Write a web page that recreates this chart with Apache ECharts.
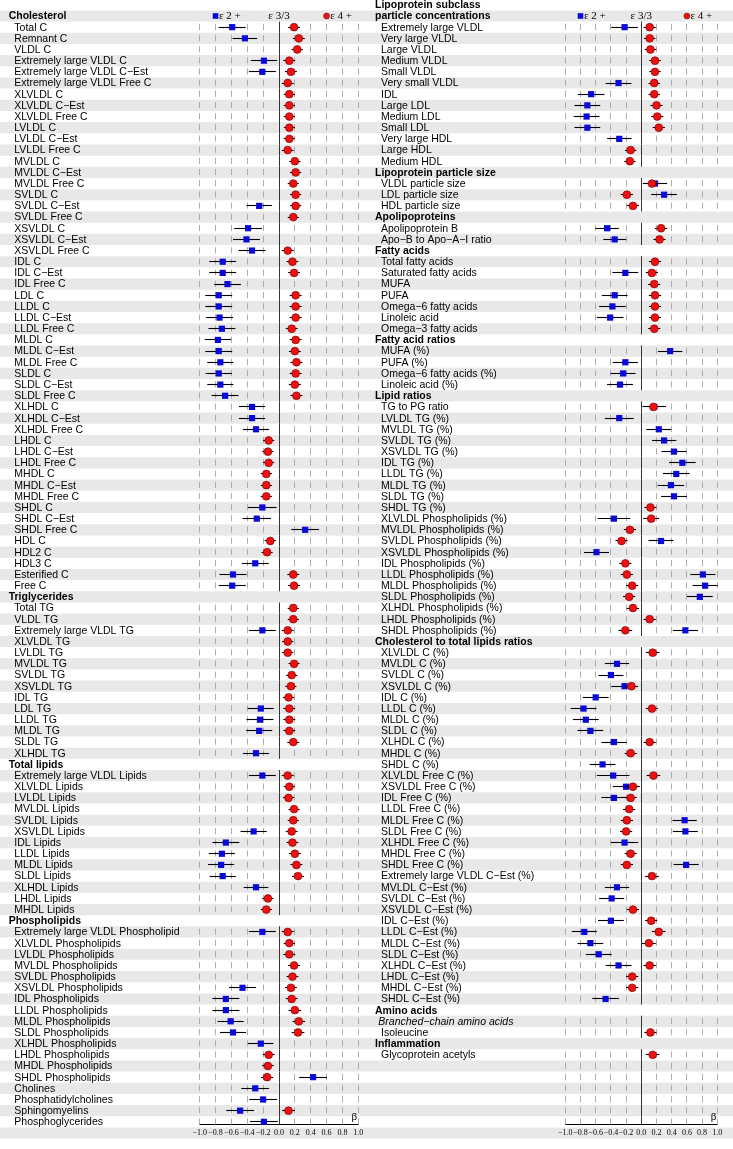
<!DOCTYPE html>
<html><head><meta charset="utf-8">
<script src="https://cdn.jsdelivr.net/npm/echarts@6/dist/echarts.min.js"></script>
<style>html,body{margin:0;padding:0;background:#fff}#c{width:733px;height:1149px}</style>
</head><body><div id="c"></div>
<script>
// ---------------- DATA ----------------
const tickValues = [-1.0,-0.8,-0.6,-0.4,-0.2,0.0,0.2,0.4,0.6,0.8,1.0];
const tickLabels = ['−1.0','−0.8','−0.6','−0.4','−0.2','0.0','0.2','0.4','0.6','0.8','1.0'];
const legendNames = ['ε 2 +','ε 3/3','ε 4 +'];

const leftLabels = [
'Cholesterol','Total C','Remnant C','VLDL C','Extremely large VLDL C','Extremely large VLDL C−Est','Extremely large VLDL Free C','XLVLDL C','XLVLDL C−Est','XLVLDL Free C',
'LVLDL C','LVLDL C−Est','LVLDL Free C','MVLDL C','MVLDL C−Est','MVLDL Free C','SVLDL C','SVLDL C−Est','SVLDL Free C','XSVLDL C',
'XSVLDL C−Est','XSVLDL Free C','IDL C','IDL C−Est','IDL Free C','LDL C','LLDL C','LLDL C−Est','LLDL Free C','MLDL C',
'MLDL C−Est','MLDL Free C','SLDL C','SLDL C−Est','SLDL Free C','XLHDL C','XLHDL C−Est','XLHDL Free C','LHDL C','LHDL C−Est',
'LHDL Free C','MHDL C','MHDL C−Est','MHDL Free C','SHDL C','SHDL C−Est','SHDL Free C','HDL C','HDL2 C','HDL3 C',
'Esterified C','Free C','Triglycerides','Total TG','VLDL TG','Extremely large VLDL TG','XLVLDL TG','LVLDL TG','MVLDL TG','SVLDL TG',
'XSVLDL TG','IDL TG','LDL TG','LLDL TG','MLDL TG','SLDL TG','XLHDL TG','Total lipids','Extremely large VLDL Lipids','XLVLDL Lipids',
'LVLDL Lipids','MVLDL Lipids','SVLDL Lipids','XSVLDL Lipids','IDL Lipids','LLDL Lipids','MLDL Lipids','SLDL Lipids','XLHDL Lipids','LHDL Lipids',
'MHDL Lipids','Phospholipids','Extremely large VLDL Phospholipids','XLVLDL Phospholipids','LVLDL Phospholipids','MVLDL Phospholipids','SVLDL Phospholipids','XSVLDL Phospholipids','IDL Phospholipids','LLDL Phospholipids',
'MLDL Phospholipids','SLDL Phospholipids','XLHDL Phospholipids','LHDL Phospholipids','MHDL Phospholipids','SHDL Phospholipids','Cholines','Phosphatidylcholines','Sphingomyelins','Phosphoglycerides'
];
const leftHeaders = ['Cholesterol','Triglycerides','Total lipids','Phospholipids'];

// [label, beta, half-width of CI]
const leftBlue = [
['Total C',-0.59,0.17],['Remnant C',-0.43,0.155],['Extremely large VLDL C',-0.19,0.165],['Extremely large VLDL C−Est',-0.21,0.17],
['SVLDL C−Est',-0.25,0.16],['XSVLDL C',-0.39,0.175],['XSVLDL C−Est',-0.41,0.17],['XSVLDL Free C',-0.34,0.17],
['IDL C',-0.71,0.17],['IDL C−Est',-0.71,0.17],['IDL Free C',-0.65,0.17],['LDL C',-0.76,0.17],['LLDL C',-0.76,0.17],
['LLDL C−Est',-0.75,0.17],['LLDL Free C',-0.72,0.17],['MLDL C',-0.77,0.165],['MLDL C−Est',-0.76,0.17],['MLDL Free C',-0.74,0.165],
['SLDL C',-0.76,0.165],['SLDL C−Est',-0.74,0.165],['SLDL Free C',-0.68,0.17],['XLHDL C',-0.34,0.165],['XLHDL C−Est',-0.34,0.165],
['XLHDL Free C',-0.29,0.165],['SHDL C',-0.21,0.18],['SHDL C−Est',-0.28,0.18],['SHDL Free C',0.33,0.175],['HDL3 C',-0.30,0.17],
['Esterified C',-0.58,0.17],['Free C',-0.59,0.17],['Extremely large VLDL TG',-0.21,0.17],['LDL TG',-0.23,0.165],['LLDL TG',-0.24,0.17],
['MLDL TG',-0.25,0.165],['XLHDL TG',-0.29,0.165],['Extremely large VLDL Lipids',-0.21,0.17],['XSVLDL Lipids',-0.32,0.165],
['IDL Lipids',-0.67,0.17],['LLDL Lipids',-0.72,0.165],['MLDL Lipids',-0.73,0.165],['SLDL Lipids',-0.71,0.165],['XLHDL Lipids',-0.29,0.155],
['Extremely large VLDL Phospholipids',-0.21,0.17],['XSVLDL Phospholipids',-0.46,0.17],['IDL Phospholipids',-0.67,0.17],
['LLDL Phospholipids',-0.67,0.17],['MLDL Phospholipids',-0.61,0.165],['SLDL Phospholipids',-0.58,0.165],['XLHDL Phospholipids',-0.23,0.16],
['SHDL Phospholipids',0.43,0.175],['Cholines',-0.30,0.175],['Phosphatidylcholines',-0.20,0.175],['Sphingomyelins',-0.49,0.175],
['Phosphoglycerides',-0.19,0.175]
];
const leftRed = [
['Total C',0.19,0.075],['Remnant C',0.25,0.075],['VLDL C',0.23,0.07],['Extremely large VLDL C',0.13,0.075],['Extremely large VLDL C−Est',0.15,0.075],
['Extremely large VLDL Free C',0.11,0.075],['XLVLDL C',0.13,0.07],['XLVLDL C−Est',0.13,0.07],['XLVLDL Free C',0.13,0.07],['LVLDL C',0.13,0.07],
['LVLDL C−Est',0.13,0.07],['LVLDL Free C',0.11,0.075],['MVLDL C',0.20,0.07],['MVLDL C−Est',0.21,0.07],['MVLDL Free C',0.18,0.07],
['SVLDL C',0.21,0.07],['SVLDL C−Est',0.21,0.07],['SVLDL Free C',0.18,0.07],['XSVLDL Free C',0.11,0.075],['IDL C',0.17,0.075],
['IDL C−Est',0.19,0.075],['LDL C',0.21,0.075],['LLDL C',0.21,0.075],['LLDL C−Est',0.21,0.075],['LLDL Free C',0.16,0.075],
['MLDL C',0.21,0.075],['MLDL C−Est',0.20,0.075],['MLDL Free C',0.22,0.075],['SLDL C',0.21,0.075],['SLDL C−Est',0.20,0.075],
['SLDL Free C',0.22,0.075],['LHDL C',-0.13,0.07],['LHDL C−Est',-0.14,0.07],['LHDL Free C',-0.13,0.07],['MHDL C',-0.16,0.07],
['MHDL C−Est',-0.16,0.07],['MHDL Free C',-0.16,0.07],['HDL C',-0.11,0.07],['HDL2 C',-0.15,0.07],['Esterified C',0.18,0.075],
['Free C',0.19,0.075],['Total TG',0.18,0.07],['VLDL TG',0.18,0.07],['Extremely large VLDL TG',0.11,0.075],['XLVLDL TG',0.11,0.07],
['LVLDL TG',0.11,0.07],['MVLDL TG',0.19,0.07],['SVLDL TG',0.16,0.07],['XSVLDL TG',0.15,0.07],['IDL TG',0.12,0.07],
['LDL TG',0.13,0.075],['LLDL TG',0.13,0.075],['MLDL TG',0.13,0.075],['SLDL TG',0.18,0.075],['Extremely large VLDL Lipids',0.11,0.075],
['XLVLDL Lipids',0.13,0.07],['LVLDL Lipids',0.12,0.07],['MVLDL Lipids',0.19,0.07],['SVLDL Lipids',0.18,0.07],['XSVLDL Lipids',0.16,0.075],
['IDL Lipids',0.17,0.075],['LLDL Lipids',0.20,0.075],['MLDL Lipids',0.22,0.075],['SLDL Lipids',0.24,0.075],['LHDL Lipids',-0.14,0.07],
['MHDL Lipids',-0.16,0.07],['Extremely large VLDL Phospholipids',0.11,0.075],['XLVLDL Phospholipids',0.13,0.07],['LVLDL Phospholipids',0.13,0.075],
['MVLDL Phospholipids',0.19,0.075],['SVLDL Phospholipids',0.17,0.075],['XSVLDL Phospholipids',0.15,0.075],['IDL Phospholipids',0.16,0.075],
['LLDL Phospholipids',0.20,0.08],['MLDL Phospholipids',0.25,0.08],['SLDL Phospholipids',0.24,0.08],['LHDL Phospholipids',-0.13,0.075],
['MHDL Phospholipids',-0.14,0.075],['SHDL Phospholipids',-0.15,0.075],['Sphingomyelins',0.12,0.08]
];

// right panel starts one row higher (two-line heading)
const rightLabels = [
'Lipoprotein subclass','particle concentrations','Extremely large VLDL','Very large VLDL','Large VLDL','Medium VLDL','Small VLDL','Very small VLDL','IDL','Large LDL',
'Medium LDL','Small LDL','Very large HDL','Large HDL','Medium HDL','Lipoprotein particle size','VLDL particle size','LDL particle size','HDL particle size','Apolipoproteins',
'Apolipoprotein B','Apo−B to Apo−A−I ratio','Fatty acids','Total fatty acids','Saturated fatty acids','MUFA','PUFA','Omega−6 fatty acids','Linoleic acid','Omega−3 fatty acids',
'Fatty acid ratios','MUFA (%)','PUFA (%)','Omega−6 fatty acids (%)','Linoleic acid (%)','Lipid ratios','TG to PG ratio','LVLDL TG (%)','MVLDL TG (%)','SVLDL TG (%)',
'XSVLDL TG (%)','IDL TG (%)','LLDL TG (%)','MLDL TG (%)','SLDL TG (%)','SHDL TG (%)','XLVLDL Phospholipids (%)','MVLDL Phospholipids (%)','SVLDL Phospholipids (%)','XSVLDL Phospholipids (%)',
'IDL Phospholipids (%)','LLDL Phospholipids (%)','MLDL Phospholipids (%)','SLDL Phospholipids (%)','XLHDL Phospholipids (%)','LHDL Phospholipids (%)','SHDL Phospholipids (%)','Cholesterol to total lipids ratios','XLVLDL C (%)','MVLDL C (%)',
'SVLDL C (%)','XSVLDL C (%)','IDL C (%)','LLDL C (%)','MLDL C (%)','SLDL C (%)','XLHDL C (%)','MHDL C (%)','SHDL C (%)','XLVLDL Free C (%)',
'XSVLDL Free C (%)','IDL Free C (%)','LLDL Free C (%)','MLDL Free C (%)','SLDL Free C (%)','XLHDL Free C (%)','MHDL Free C (%)','SHDL Free C (%)','Extremely large VLDL C−Est (%)','MVLDL C−Est (%)',
'SVLDL C−Est (%)','XSVLDL C−Est (%)','IDL C−Est (%)','LLDL C−Est (%)','MLDL C−Est (%)','SLDL C−Est (%)','XLHDL C−Est (%)','LHDL C−Est (%)','MHDL C−Est (%)','SHDL C−Est (%)',
'Amino acids','Branched−chain amino acids','Isoleucine','Inflammation','Glycoprotein acetyls','','','','','',''
];
const rightHeaders = ['Lipoprotein subclass','particle concentrations','Lipoprotein particle size','Apolipoproteins','Fatty acids','Fatty acid ratios','Lipid ratios','Cholesterol to total lipids ratios','Amino acids','Inflammation'];
const rightSubheaders = ['Branched−chain amino acids'];

const rightBlue = [
['Extremely large VLDL',-0.22,0.175],['Very small VLDL',-0.30,0.17],['IDL',-0.66,0.175],['Large LDL',-0.71,0.17],['Medium LDL',-0.72,0.17],
['Small LDL',-0.71,0.17],['Very large HDL',-0.29,0.16],['VLDL particle size',0.18,0.16],['LDL particle size',0.30,0.17],
['Apolipoprotein B',-0.45,0.155],['Apo−B to Apo−A−I ratio',-0.35,0.15],['Saturated fatty acids',-0.21,0.17],['PUFA',-0.35,0.17],
['Omega−6 fatty acids',-0.38,0.175],['Linoleic acid',-0.41,0.175],['MUFA (%)',0.38,0.16],['PUFA (%)',-0.21,0.165],
['Omega−6 fatty acids (%)',-0.24,0.165],['Linoleic acid (%)',-0.28,0.17],['TG to PG ratio',0.17,0.155],['LVLDL TG (%)',-0.29,0.19],
['MVLDL TG (%)',0.23,0.165],['SVLDL TG (%)',0.30,0.16],['XSVLDL TG (%)',0.43,0.165],['IDL TG (%)',0.54,0.175],['LLDL TG (%)',0.46,0.175],
['MLDL TG (%)',0.39,0.175],['SLDL TG (%)',0.43,0.17],['XLVLDL Phospholipids (%)',-0.36,0.215],['SVLDL Phospholipids (%)',0.26,0.165],
['XSVLDL Phospholipids (%)',-0.59,0.165],['LLDL Phospholipids (%)',0.81,0.165],['MLDL Phospholipids (%)',0.84,0.165],
['SLDL Phospholipids (%)',0.77,0.17],['SHDL Phospholipids (%)',0.58,0.165],['MVLDL C (%)',-0.32,0.16],['SVLDL C (%)',-0.40,0.165],
['XSVLDL C (%)',-0.22,0.175],['IDL C (%)',-0.60,0.17],['LLDL C (%)',-0.76,0.17],['MLDL C (%)',-0.73,0.17],['SLDL C (%)',-0.67,0.17],
['XLHDL C (%)',-0.36,0.165],['SHDL C (%)',-0.51,0.17],['XLVLDL Free C (%)',-0.37,0.215],['XSVLDL Free C (%)',-0.20,0.175],
['IDL Free C (%)',-0.36,0.165],['MLDL Free C (%)',0.57,0.16],['SLDL Free C (%)',0.58,0.165],['XLHDL Free C (%)',-0.22,0.18],
['SHDL Free C (%)',0.59,0.165],['MVLDL C−Est (%)',-0.32,0.16],['SVLDL C−Est (%)',-0.39,0.165],['IDL C−Est (%)',-0.40,0.17],
['LLDL C−Est (%)',-0.75,0.165],['MLDL C−Est (%)',-0.67,0.17],['SLDL C−Est (%)',-0.56,0.17],['XLHDL C−Est (%)',-0.30,0.17],
['SHDL C−Est (%)',-0.47,0.175]
];
const rightRed = [
['Extremely large VLDL',0.11,0.08],['Very large VLDL',0.11,0.075],['Large VLDL',0.12,0.075],['Medium VLDL',0.18,0.075],['Small VLDL',0.18,0.075],
['Very small VLDL',0.17,0.075],['IDL',0.17,0.075],['Large LDL',0.20,0.08],['Medium LDL',0.21,0.08],['Small LDL',0.23,0.08],
['Large HDL',-0.14,0.075],['Medium HDL',-0.15,0.075],['VLDL particle size',0.14,0.08],['LDL particle size',-0.19,0.08],
['HDL particle size',-0.11,0.08],['Apolipoprotein B',0.26,0.08],['Apo−B to Apo−A−I ratio',0.24,0.08],['Total fatty acids',0.18,0.08],
['Saturated fatty acids',0.14,0.08],['MUFA',0.17,0.08],['PUFA',0.18,0.08],['Omega−6 fatty acids',0.18,0.08],['Linoleic acid',0.18,0.08],
['Omega−3 fatty acids',0.17,0.08],['TG to PG ratio',0.16,0.08],['SHDL TG (%)',0.12,0.08],['XLVLDL Phospholipids (%)',0.13,0.105],
['MVLDL Phospholipids (%)',-0.15,0.08],['SVLDL Phospholipids (%)',-0.26,0.08],['IDL Phospholipids (%)',-0.21,0.08],
['LLDL Phospholipids (%)',-0.19,0.08],['MLDL Phospholipids (%)',-0.12,0.08],['SLDL Phospholipids (%)',-0.16,0.08],
['XLHDL Phospholipids (%)',-0.11,0.08],['LHDL Phospholipids (%)',0.11,0.08],['SHDL Phospholipids (%)',-0.21,0.09],['XLVLDL C (%)',0.15,0.09],
['XSVLDL C (%)',-0.13,0.08],['LLDL C (%)',0.14,0.08],['XLHDL C (%)',0.11,0.08],['MHDL C (%)',-0.14,0.08],['XLVLDL Free C (%)',0.16,0.09],
['XSVLDL Free C (%)',-0.11,0.09],['IDL Free C (%)',-0.14,0.08],['LLDL Free C (%)',-0.16,0.08],['MLDL Free C (%)',-0.19,0.08],
['SLDL Free C (%)',-0.20,0.08],['MHDL Free C (%)',-0.14,0.08],['SHDL Free C (%)',-0.19,0.08],['Extremely large VLDL C−Est (%)',0.14,0.09],
['XSVLDL C−Est (%)',-0.11,0.08],['IDL C−Est (%)',0.13,0.08],['LLDL C−Est (%)',0.23,0.09],['MLDL C−Est (%)',0.10,0.09],
['XLHDL C−Est (%)',0.11,0.08],['LHDL C−Est (%)',-0.12,0.08],['MHDL C−Est (%)',-0.12,0.08],['Isoleucine',0.12,0.08],
['Glycoprotein acetyls',0.15,0.09]
];

// ---------------- LAYOUT ----------------
const W = 733, H = 1149, ROW0 = 16, ROWH = 11.17, AXIS_Y = 1124.7;
const yMinAll = -ROW0 / ROWH, yMaxAll = (H - ROW0) / ROWH, yMaxPanel = (AXIS_Y - ROW0) / ROWH;
const BLUE = '#0a0ad8', RED = '#ee1111';
const SANS = '"Liberation Sans", Arial, sans-serif';
const SERIF = '"Liberation Serif", "Times New Roman", serif';

const panels = [
  {labels: leftLabels, start: 0, headers: leftHeaders, subs: [], blue: leftBlue, red: leftRed,
   gridLeft: 199.7, gridWidth: 158.6, xHead: 8.7, xSub: 11, xItem: 14.3, clipW: 168.5},
  {labels: rightLabels, start: -1, headers: rightHeaders, subs: rightSubheaders, blue: rightBlue, red: rightRed,
   gridLeft: 565.3, gridWidth: 152, xHead: 375, xSub: 378.3, xItem: 381, clipW: 0}
];

const chart = echarts.init(document.getElementById('c'), null, {renderer: 'canvas'});

const grids = [{left: 0, top: 0, width: W, height: H}];
const xAxes = [{gridIndex: 0, type: 'value', min: 0, max: W, show: false}];
const yAxes = [{gridIndex: 0, type: 'value', min: yMinAll, max: yMaxAll, inverse: true, show: false}];
const series = [];

// stripes
const stripeRows = [];
for (let r = 0; r <= Math.ceil(yMaxAll); r++) if (r % 2 === 0) stripeRows.push([0, r]);
series.push({
  type: 'custom', xAxisIndex: 0, yAxisIndex: 0, z: 0, silent: true, data: stripeRows,
  renderItem: function (params, api) {
    const r = api.value(1);
    const a = api.coord([0, r - 0.5]), b = api.coord([W, r + 0.5]);
    return {type: 'rect', shape: {x: a[0], y: a[1], width: b[0] - a[0], height: b[1] - a[1]}, style: {fill: '#e8e8e8'}};
  }
});

// labels
const labelItems = [];
panels.forEach(p => {
  p.labels.forEach((lab, i) => {
    if (!lab) return;
    const isH = p.headers.includes(lab), isS = p.subs.includes(lab);
    labelItems.push({text: lab, row: p.start + i, x: isH ? p.xHead : (isS ? p.xSub : p.xItem),
      font: (isS ? 'italic ' : '') + (isH ? 'bold ' : '') + '10.5px ' + SANS, clipW: p.clipW});
  });
});
series.push({
  type: 'custom', xAxisIndex: 0, yAxisIndex: 0, z: 2, silent: true,
  data: labelItems.map(it => [it.x, it.row]),
  renderItem: function (params, api) {
    const it = labelItems[params.dataIndex];
    const pt = api.coord([it.x, it.row]);
    const style = {x: pt[0], y: pt[1] + 0.5, text: it.text, font: it.font, fill: '#000', align: 'left', verticalAlign: 'middle'};
    if (it.clipW) { style.width = it.clipW; style.overflow = 'truncate'; style.ellipsis = ''; }
    return {type: 'text', style: style};
  }
});

panels.forEach((p, k) => {
  const ax = k + 1;
  grids.push({left: p.gridLeft, top: 0, width: p.gridWidth, height: AXIS_Y});
  xAxes.push({
    gridIndex: ax, type: 'value', min: -1, max: 1, interval: 0.2, position: 'bottom',
    axisLine: {show: true, onZero: false, lineStyle: {color: '#000', width: 1}},
    axisTick: {show: false}, splitLine: {show: false},
    axisLabel: {show: true, margin: 4, color: '#000', fontFamily: SERIF, fontSize: 8,
      formatter: v => tickLabels[Math.round((v + 1) / 0.2)]}
  });
  yAxes.push({gridIndex: ax, type: 'value', min: yMinAll, max: yMaxPanel, inverse: true, show: false});

  const rowOf = new Map(p.labels.map((l, i) => [l, p.start + i]));
  const lineRows = [];
  p.labels.forEach((l, i) => { if (!p.headers.includes(l)) lineRows.push([0, p.start + i]); });

  // dashed grid (one dash per row) + zero line per row
  series.push({
    type: 'custom', xAxisIndex: ax, yAxisIndex: ax, z: 1, silent: true, data: lineRows,
    renderItem: function (params, api) {
      const r = api.value(1);
      const children = tickValues.map(v => {
        const isZero = v === 0;
        const a = api.coord([v, isZero ? r - 0.5 : r - 0.3]);
        const b = api.coord([v, isZero ? Math.min(r + 0.5, yMaxPanel) : r + 0.25]);
        const x = Math.round(a[0] - 0.5) + 0.5;
        return {type: 'line', shape: {x1: x, y1: a[1], x2: x, y2: b[1]},
          style: isZero ? {stroke: '#333', lineWidth: 1} : {stroke: '#a4a4a4', lineWidth: 0.9}};
      });
      return {type: 'group', children: children};
    }
  });

  const ciSeries = (arr, z) => ({
    type: 'custom', xAxisIndex: ax, yAxisIndex: ax, z: z, silent: true,
    data: arr.map(d => [d[1] - d[2], rowOf.get(d[0]), d[1] + d[2]]),
    renderItem: function (params, api) {
      const r = api.value(1);
      const a = api.coord([api.value(0), r]), b = api.coord([api.value(2), r]);
      const y = Math.round(a[1] - 0.5) + 0.5;
      return {type: 'line', shape: {x1: a[0], y1: y, x2: b[0], y2: y}, style: {stroke: '#000', lineWidth: 1.1}};
    }
  });
  series.push(ciSeries(p.blue, 3));
  series.push({
    type: 'scatter', name: legendNames[0], xAxisIndex: ax, yAxisIndex: ax, z: 4, silent: true,
    symbol: 'rect', symbolSize: 6.2, itemStyle: {color: BLUE, opacity: 1},
    data: p.blue.map(d => [d[1], rowOf.get(d[0])])
  });
  series.push(ciSeries(p.red, 5));
  series.push({
    type: 'scatter', name: legendNames[2], xAxisIndex: ax, yAxisIndex: ax, z: 6, silent: true,
    symbol: 'circle', symbolSize: 7.8, itemStyle: {color: RED, borderColor: '#6a0000', borderWidth: 0.6, opacity: 1},
    data: p.red.map(d => [d[1], rowOf.get(d[0])])
  });
});

chart.setOption({
  animation: false, backgroundColor: '#ffffff',
  grid: grids, xAxis: xAxes, yAxis: yAxes, series: series
});

// legend and axis title placed through the panel scales
const graphics = [];
[1, 2].forEach(ax => {
  const c = (v, r) => chart.convertToPixel({xAxisIndex: ax, yAxisIndex: ax}, [v, r]);
  const sq = c(-0.8, 0), zr = c(0, 0), ci = c(0.6, 0), be = c(0.95, yMaxPanel);
  graphics.push({type: 'rect', shape: {x: sq[0] - 2.8, y: sq[1] - 2.8, width: 5.6, height: 5.6}, style: {fill: BLUE}, z: 10});
  graphics.push({type: 'text', x: sq[0] + 3.4, y: sq[1] + 0.5, style: {text: legendNames[0], font: '11px ' + SERIF, fill: '#000', align: 'left', verticalAlign: 'middle'}, z: 10});
  graphics.push({type: 'text', x: zr[0], y: zr[1] + 0.5, style: {text: legendNames[1], font: '11px ' + SERIF, fill: '#000', align: 'center', verticalAlign: 'middle'}, z: 10});
  graphics.push({type: 'circle', shape: {cx: ci[0], cy: ci[1], r: 3}, style: {fill: RED, stroke: '#6a0000', lineWidth: 0.5}, z: 10});
  graphics.push({type: 'text', x: ci[0] + 3.6, y: ci[1] + 0.5, style: {text: legendNames[2], font: '11px ' + SERIF, fill: '#000', align: 'left', verticalAlign: 'middle'}, z: 10});
  graphics.push({type: 'text', x: be[0], y: be[1] - 7.5, style: {text: 'β', font: '11px ' + SERIF, fill: '#000', align: 'center', verticalAlign: 'middle'}, z: 10});
});
chart.setOption({graphic: graphics});
</script>
</body></html>
